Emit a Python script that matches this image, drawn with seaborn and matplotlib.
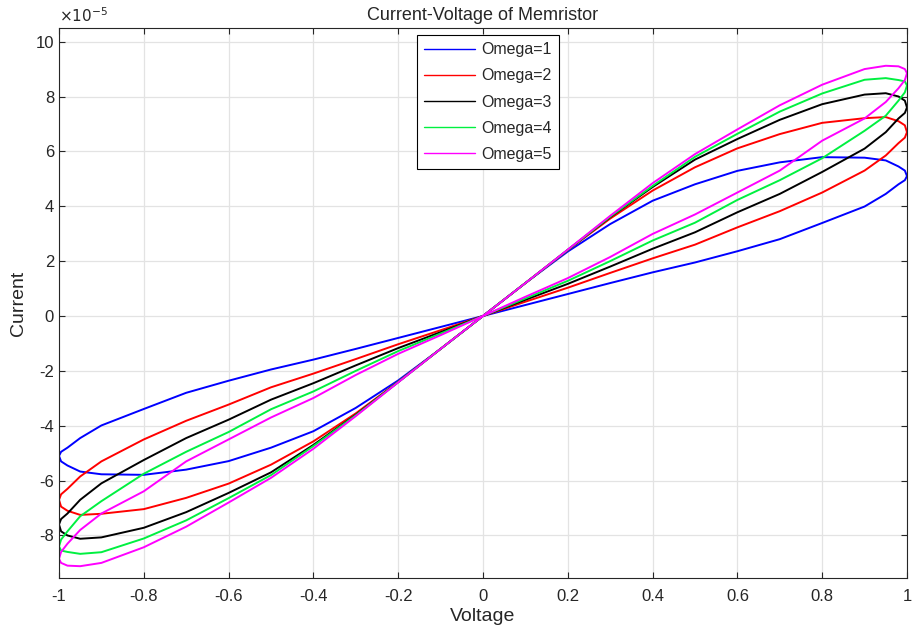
import numpy as np
import pandas as pd
import matplotlib
matplotlib.use('Agg')
import matplotlib.pyplot as plt
import seaborn as sns
from matplotlib.ticker import FuncFormatter

# Voltage grid (V) shared by every loop
voltage = [-1, -0.995, -0.98, -0.95, -0.9, -0.8, -0.7, -0.6, -0.5, -0.4, -0.3, -0.2, -0.1, 0,
           0.1, 0.2, 0.3, 0.4, 0.5, 0.6, 0.7, 0.8, 0.9, 0.95, 0.98, 0.995, 1]

# Current, in units of 1e-5 A (top and bottom branch of each loop)
top1 = [-5.1, -4.95, -4.8, -4.45, -3.99, -3.39, -2.8, -2.36, -1.95, -1.59, -1.2, -0.8, -0.4, 0,
        1.2, 2.35, 3.35, 4.2, 4.8, 5.29, 5.6, 5.79, 5.77, 5.67, 5.45, 5.3, 5.1]
bot1 = [-5.1, -5.3, -5.45, -5.67, -5.77, -5.79, -5.6, -5.29, -4.8, -4.2, -3.35, -2.35, -1.2, 0,
        0.4, 0.8, 1.2, 1.59, 1.95, 2.36, 2.8, 3.39, 3.99, 4.45, 4.8, 4.95, 5.1]
top2 = [-6.7, -6.5, -6.3, -5.85, -5.3, -4.5, -3.82, -3.23, -2.6, -2.1, -1.57, -1.03, -0.52, 0,
        1.2, 2.4, 3.55, 4.57, 5.42, 6.11, 6.63, 7.04, 7.21, 7.25, 7.1, 6.95, 6.7]
bot2 = [-6.7, -6.95, -7.1, -7.25, -7.21, -7.04, -6.63, -6.11, -5.42, -4.57, -3.55, -2.4, -1.2, 0,
        0.52, 1.03, 1.57, 2.1, 2.6, 3.23, 3.82, 4.5, 5.3, 5.85, 6.3, 6.5, 6.7]
top3 = [-7.6, -7.4, -7.2, -6.7, -6.1, -5.25, -4.45, -3.78, -3.05, -2.45, -1.8, -1.17, -0.59, 0,
        1.2, 2.41, 3.6, 4.7, 5.7, 6.45, 7.15, 7.72, 8.07, 8.12, 8.0, 7.85, 7.6]
bot3 = [-7.6, -7.85, -8.0, -8.12, -8.07, -7.72, -7.15, -6.45, -5.7, -4.7, -3.6, -2.41, -1.2, 0,
        0.59, 1.17, 1.8, 2.45, 3.05, 3.78, 4.45, 5.25, 6.1, 6.7, 7.2, 7.4, 7.6]
top4 = [-8.4, -8.15, -7.85, -7.3, -6.75, -5.75, -4.95, -4.23, -3.4, -2.75, -2.0, -1.28, -0.64, 0,
        1.2, 2.41, 3.62, 4.74, 5.8, 6.64, 7.45, 8.11, 8.61, 8.67, 8.6, 8.55, 8.4]
bot4 = [-8.4, -8.55, -8.6, -8.67, -8.61, -8.11, -7.45, -6.64, -5.8, -4.74, -3.62, -2.41, -1.2, 0,
        0.64, 1.28, 2.0, 2.75, 3.4, 4.23, 4.95, 5.75, 6.75, 7.3, 7.85, 8.15, 8.4]
top5 = [-8.85, -8.6, -8.3, -7.8, -7.2, -6.39, -5.3, -4.5, -3.7, -2.99, -2.15, -1.38, -0.7, 0,
        1.2, 2.42, 3.65, 4.84, 5.9, 6.8, 7.68, 8.43, 9.0, 9.12, 9.1, 9.0, 8.85]
bot5 = [-8.85, -9.0, -9.1, -9.12, -9.0, -8.43, -7.68, -6.8, -5.9, -4.84, -3.65, -2.42, -1.2, 0,
        0.7, 1.38, 2.15, 2.99, 3.7, 4.5, 5.3, 6.39, 7.2, 7.8, 8.3, 8.6, 8.85]

labels = ['Omega=1', 'Omega=2', 'Omega=3', 'Omega=4', 'Omega=5']
colors = ['#0000ff', '#ff0000', '#000000', '#00f040', '#ff00ff']
tops = [top1, top2, top3, top4, top5]
bots = [bot1, bot2, bot3, bot4, bot5]

# one closed loop per omega: top branch left->right, bottom branch right->left
rows = []
for lab, t, b in zip(labels, tops, bots):
    vs = voltage + voltage[::-1]
    cs = t + b[::-1]
    for v, c in zip(vs, cs):
        rows.append((lab, v, c * 1e-5))
df = pd.DataFrame(rows, columns=['Omega', 'Voltage', 'Current'])

sns.set_style('ticks')
plt.rcParams['font.family'] = ['Liberation Sans', 'DejaVu Sans']
plt.rcParams['axes.unicode_minus'] = False

fig = plt.figure(figsize=(9.13, 6.33), dpi=100)
ax = fig.add_axes([0.0646, 0.0869, 0.9288, 0.869])

sns.lineplot(data=df, x='Voltage', y='Current', hue='Omega', palette=colors,
             sort=False, estimator=None, linewidth=1.4, ax=ax)

ax.set_xlim(-1, 1)
ax.set_ylim(-9.55e-5, 10.5e-5)
ax.set_xticks(np.arange(-1, 1.01, 0.2))
ax.set_yticks(np.arange(-8, 10.1, 2) * 1e-5)
ax.xaxis.set_major_formatter(FuncFormatter(lambda v, _: f'{round(v, 1) + 0.0:g}'))
ax.yaxis.set_major_formatter(FuncFormatter(lambda v, _: f'{round(v * 1e5, 1) + 0.0:g}'))
ax.text(0, 1.006, r'$\times10^{-5}$', transform=ax.transAxes, fontsize=11,
        color='#262626', ha='left', va='bottom')

ax.grid(True, color='#e3e3e3', linewidth=0.9)
ax.set_axisbelow(True)
for s in ax.spines.values():
    s.set_color('#262626')
    s.set_linewidth(0.8)
ax.tick_params(direction='in', length=4, width=0.8, labelsize=12, colors='#262626',
               top=True, right=True)
ax.tick_params(axis='x', pad=8)

ax.set_xlabel('Voltage', fontsize=14, labelpad=3)
ax.set_ylabel('Current', fontsize=14, labelpad=6)
ax.set_title('Current-Voltage of Memristor', fontsize=13, pad=6)

handles, labs = ax.get_legend_handles_labels()
leg = ax.legend(handles, labs, loc='upper left', bbox_to_anchor=(0.422, 0.987),
                borderaxespad=0, fontsize=11.5, frameon=True, fancybox=False,
                edgecolor='black', handlelength=3.2, handletextpad=0.4,
                borderpad=0.45, labelspacing=0.7, framealpha=1)
leg.get_frame().set_linewidth(0.8)
for h in leg.get_lines():
    h.set_linewidth(1.0)

fig.savefig('out.png', dpi=100)
